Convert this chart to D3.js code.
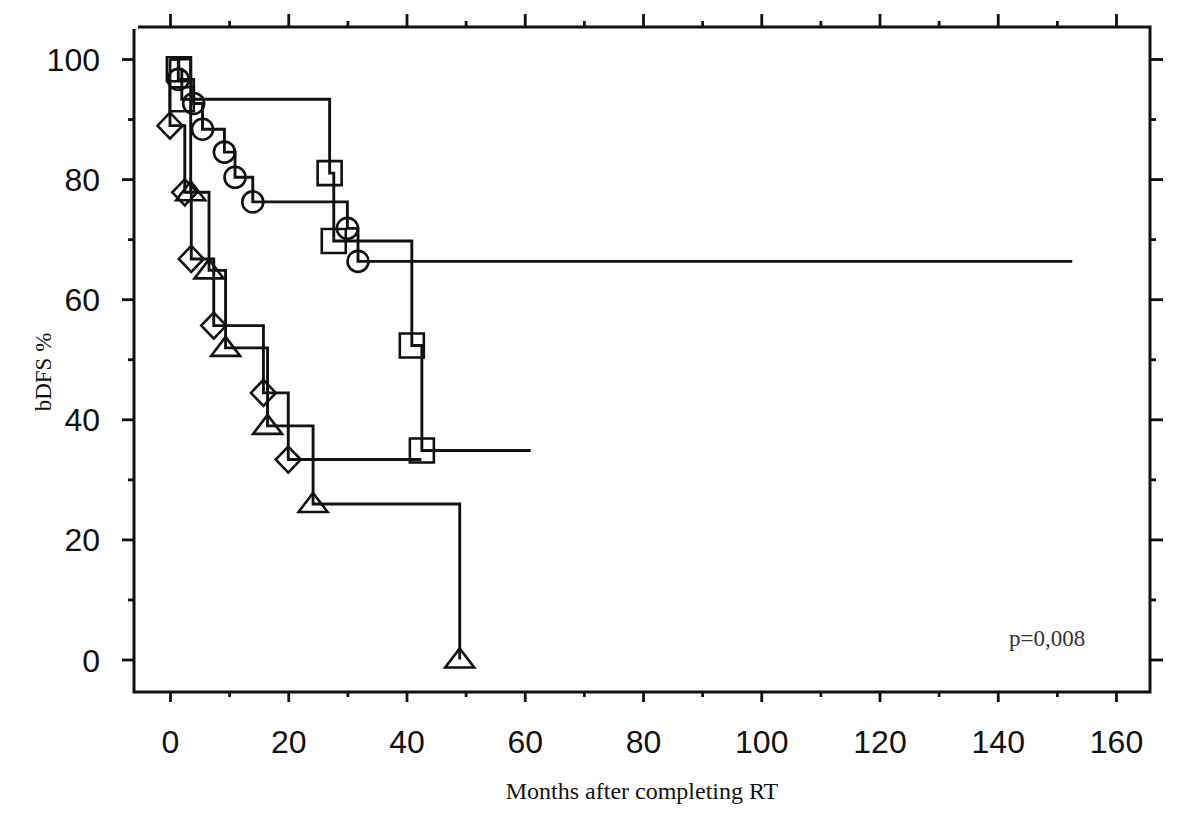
<!DOCTYPE html>
<html>
<head>
<meta charset="utf-8">
<script src="https://cdn.jsdelivr.net/npm/d3@7"></script>
<style>
  body { margin: 0; background: #fff; }
  svg { display: block; }
</style>
</head>
<body>
<div id="chart-area"></div>
<script>
// x axis ticks (months) and y axis ticks (%)
var xTicks = [0, 20, 40, 60, 80, 100, 120, 140, 160];
var yTicks = [0, 20, 40, 60, 80, 100];

// squares
var squareMonths = [1.5, 2.0, 27.0, 27.7, 40.9, 42.6];
var squareSurv = [98.3, 93.3, 81.0, 69.7, 52.3, 34.8];
var squareEnd = 61;

// circles
var circleMonths = [1.4, 4.0, 5.5, 9.2, 11.0, 14.0, 30.0, 31.8];
var circleSurv = [96.6, 92.6, 88.3, 84.5, 80.3, 76.2, 71.8, 66.3];
var circleEnd = 152.6;

// diamonds
var diamondMonths = [0, 2.5, 3.6, 7.4, 15.8, 20.0];
var diamondSurv = [88.9, 77.8, 66.7, 55.6, 44.4, 33.3];
var diamondEnd = 42.5;

// triangles
var triangleMonths = [3.5, 6.6, 9.4, 16.5, 24.2, 49.0];
var triangleSurv = [77.8, 64.8, 51.9, 38.9, 25.9, 0];
var triangleEnd = 49.0;

var frame = {left: 134, right: 1150, top: 27, bottom: 692};
var ink = "#111";

var svg = d3.select("#chart-area")
    .append("svg")
    .attr("width", 1200)
    .attr("height", 837);

var x = d3.scaleLinear()
    .domain([0, 160])
    .range([170, 1116]);

var y = d3.scaleLinear()
    .domain([0, 100])
    .range([659.5, 59]);

var minorX = d3.range(10, 160, 20);
var minorY = d3.range(10, 100, 20);

// axis helper: draws major + minor ticks, no domain line
function drawTicks(axisFn, scale, major, minor, bigLen, smallLen, transform, labels) {
    var gMajor = svg.append("g")
        .attr("transform", transform)
        .call(axisFn(scale).tickValues(major).tickSize(bigLen).tickSizeOuter(0)
            .tickFormat(labels ? d3.format("d") : ""));
    var gMinor = svg.append("g")
        .attr("transform", transform)
        .call(axisFn(scale).tickValues(minor).tickSize(smallLen).tickSizeOuter(0).tickFormat(""));
    [gMajor, gMinor].forEach(function (g) {
        g.select(".domain").remove();
        g.selectAll("line").attr("stroke", ink).attr("stroke-width", 2.8);
    });
    return gMajor;
}

var bottomAxis = drawTicks(d3.axisBottom, x, xTicks, minorX, 10, 5,
    "translate(0," + frame.bottom + ")", true);
bottomAxis.selectAll("text")
    .attr("y", 38)
    .attr("dy", "0.71em")
    .style("font-family", "'Liberation Sans', Arial, sans-serif")
    .style("font-size", "32px")
    .attr("fill", ink);

drawTicks(d3.axisTop, x, xTicks, minorX, 13, 6,
    "translate(0," + frame.top + ")", false);

var leftAxis = drawTicks(d3.axisLeft, y, yTicks, minorY, 12, 6,
    "translate(" + frame.left + ",0)", true);
leftAxis.selectAll("text")
    .attr("x", -34)
    .attr("dy", "0.36em")
    .style("font-family", "'Liberation Sans', Arial, sans-serif")
    .style("font-size", "32px")
    .attr("fill", ink);

drawTicks(d3.axisRight, y, yTicks, minorY, 13, 6,
    "translate(" + frame.right + ",0)", false);

// plot frame
svg.append("path")
    .attr("d", "M" + frame.left + "," + (frame.top + 2) +
        "V" + frame.bottom + "H" + frame.right + "V" + frame.top + "H" + (frame.left + 4))
    .attr("fill", "none")
    .attr("stroke", ink)
    .attr("stroke-width", 3);

// axis titles
svg.append("text")
    .attr("x", (frame.left + frame.right) / 2)
    .attr("y", 799)
    .attr("text-anchor", "middle")
    .style("font-family", "'Liberation Serif', 'Times New Roman', serif")
    .style("font-size", "24px")
    .attr("fill", ink)
    .text("Months after completing RT");

svg.append("text")
    .attr("transform", "translate(51,372) rotate(-90)")
    .attr("text-anchor", "middle")
    .style("font-family", "'Liberation Serif', 'Times New Roman', serif")
    .style("font-size", "23px")
    .attr("fill", ink)
    .text("bDFS %");

svg.append("text")
    .attr("x", 1009)
    .attr("y", 646)
    .style("font-family", "'Liberation Serif', 'Times New Roman', serif")
    .style("font-size", "23px")
    .attr("fill", "#333")
    .text("p=0,008");

// step curves
var stepLine = d3.line()
    .x(function (d) { return x(d[0]); })
    .y(function (d) { return y(d[1]); })
    .curve(d3.curveStepAfter);

function stepData(months, surv, end) {
    var pts = [[0, 100]];
    for (var i = 0; i < months.length; i++) {
        pts.push([months[i], surv[i]]);
    }
    pts.push([end, surv[surv.length - 1]]);
    return pts;
}

var shapes = {
    square: "M-12,-12H12V12H-12Z",
    circle: d3.symbol().type(d3.symbolCircle).size(Math.PI * 10.5 * 10.5)(),
    diamond: "M0,-13L12.5,0L0,13L-12.5,0Z",
    triangle: "M0,-11L14.5,8H-14.5Z"
};

var series = [
    {months: squareMonths, surv: squareSurv, end: squareEnd, shape: "square"},
    {months: circleMonths, surv: circleSurv, end: circleEnd, shape: "circle"},
    {months: diamondMonths, surv: diamondSurv, end: diamondEnd, shape: "diamond"},
    {months: triangleMonths, surv: triangleSurv, end: triangleEnd, shape: "triangle"}
];

series.forEach(function (s) {
    svg.append("path")
        .datum(stepData(s.months, s.surv, s.end))
        .attr("d", stepLine)
        .attr("fill", "none")
        .attr("stroke", ink)
        .attr("stroke-width", 2.9);

    svg.selectAll(null)
        .data(d3.zip(s.months, s.surv))
        .enter()
        .append("path")
        .attr("d", shapes[s.shape])
        .attr("transform", function (d) {
            return "translate(" + x(d[0]) + "," + y(d[1]) + ")";
        })
        .attr("fill", "none")
        .attr("stroke", ink)
        .attr("stroke-width", 2.6);
});
</script>
</body>
</html>
